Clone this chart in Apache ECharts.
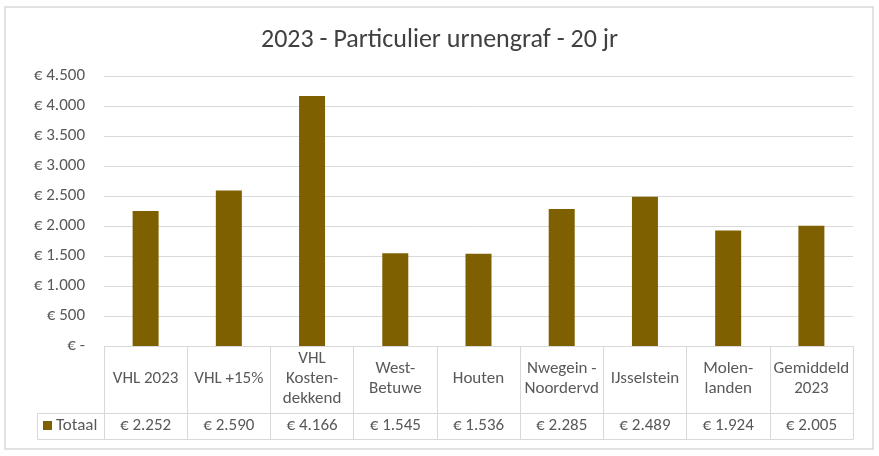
<!DOCTYPE html>
<html>
<head>
<meta charset="utf-8">
<script src="https://cdn.jsdelivr.net/npm/echarts@6/dist/echarts.min.js"></script>
<style>
  html, body { margin: 0; padding: 0; background: #fff; }
  #chart { width: 879px; height: 456px; }
</style>
</head>
<body>
<div id="chart"></div>
<script>
const categories = [
  'VHL 2023', 'VHL +15%', 'VHL\nKosten-\ndekkend', 'West-\nBetuwe', 'Houten',
  'Nwegein -\nNoordervd', 'IJsselstein', 'Molen-\nlanden', 'Gemiddeld\n2023'
]
const totals = [2252, 2590, 4166, 1545, 1536, 2285, 2489, 1924, 2005]
const seriesName = 'Totaal'
const yTicks = { min: 0, max: 4500, interval: 500 }

const FONT = 'Carlito, Calibri, "Open Sans", sans-serif'
const TEXT = '#595959'
const LINE = '#d9d9d9'
const BAR = '#7f6000'

function euro(v) {
  return '€ ' + String(v).replace(/\B(?=(\d{3})+(?!\d))/g, '.')
}

const chart = echarts.init(document.getElementById('chart'), null, { renderer: 'canvas' })

chart.setOption({
  backgroundColor: '#fff',
  animation: false,
  title: {
    text: '2023 - Particulier urnengraf - 20 jr',
    left: 'center',
    top: 22,
    textStyle: { color: '#404040', fontSize: 26, fontWeight: 'normal', fontFamily: FONT }
  },
  legend: {
    data: [seriesName],
    left: 43,
    top: 417,
    padding: 0,
    icon: 'rect',
    itemWidth: 9,
    itemHeight: 9,
    textStyle: { color: TEXT, fontSize: 17, fontFamily: FONT, padding: [0, 0, 0, -1] }
  },
  grid: { left: 104, right: 26, top: 76, bottom: 110 },
  xAxis: [
    {
      type: 'category',
      data: categories,
      axisLine: { lineStyle: { color: LINE, width: 1 } },
      axisTick: { show: true, length: 93, alignWithLabel: false, lineStyle: { color: LINE } },
      axisLabel: {
        interval: 0,
        color: TEXT,
        fontSize: 17,
        fontFamily: FONT,
        lineHeight: 20,
        verticalAlign: 'middle',
        margin: 33
      }
    },
    {
      type: 'category',
      data: categories,
      position: 'bottom',
      offset: 67,
      axisLine: { lineStyle: { color: LINE, width: 1 } },
      axisTick: { show: false },
      axisLabel: {
        interval: 0,
        color: TEXT,
        fontSize: 17,
        fontFamily: FONT,
        verticalAlign: 'middle',
        margin: 13,
        formatter: (v, i) => euro(totals[i])
      }
    },
    {
      type: 'category',
      data: categories,
      position: 'bottom',
      offset: 93,
      axisLine: { lineStyle: { color: LINE, width: 1 } },
      axisTick: { show: false },
      axisLabel: { show: false }
    }
  ],
  yAxis: {
    type: 'value',
    min: yTicks.min,
    max: yTicks.max,
    interval: yTicks.interval,
    axisLine: { show: false },
    axisTick: { show: false },
    splitLine: { lineStyle: { color: LINE, width: 1 } },
    axisLabel: {
      color: TEXT,
      fontSize: 17,
      fontFamily: FONT,
      margin: 19,
      formatter: v => (v === 0 ? '€ -' : euro(v))
    }
  },
  series: [
    {
      name: seriesName,
      type: 'bar',
      data: totals,
      barWidth: 26,
      itemStyle: { color: BAR }
    }
  ],
  graphic: [
    {
      type: 'rect',
      shape: { x: 5, y: 7, width: 868, height: 442 },
      style: { fill: null, stroke: LINE, lineWidth: 1.5 },
      silent: true
    },
    {
      type: 'polyline',
      shape: { points: [[104, 413.5], [37.5, 413.5], [37.5, 439.5], [104, 439.5]] },
      style: { fill: null, stroke: LINE, lineWidth: 1 },
      silent: true
    }
  ]
})
</script>
</body>
</html>
